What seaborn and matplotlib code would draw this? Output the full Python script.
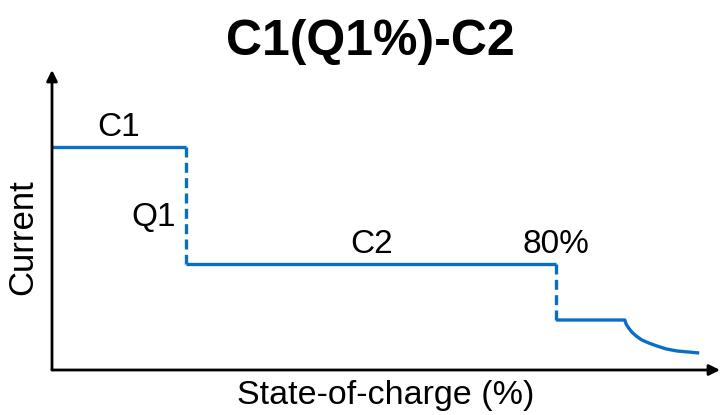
import numpy as np
import pandas as pd
import matplotlib
matplotlib.use('Agg')
import matplotlib.pyplot as plt
import seaborn as sns

# ── data (state-of-charge %, current in arbitrary units) ──────────────────────
c1_soc     = [0, 21.3]
c1_current = [2.23, 2.23]
q1_soc     = [21.3, 21.3]
q1_current = [2.23, 1.06]
c2_soc     = [21.3, 80]
c2_current = [1.06, 1.06]
step_soc     = [80, 80]
step_current = [1.06, 0.50]
cv_soc     = [80, 90.9, 91.1, 91.5, 92.0, 92.7, 93.6, 94.7, 96.0, 97.5, 99.2, 101.0, 102.7]
cv_current = [0.50, 0.50, 0.46, 0.42, 0.38, 0.34, 0.30, 0.27, 0.24, 0.21, 0.19, 0.18, 0.17]

labels = ['C1', 'Q1', 'C2', '80%']

sns.set_theme(style='white')
plt.rcParams['font.family'] = ['Liberation Sans', 'DejaVu Sans']
plt.rcParams['text.color'] = 'black'
plt.rcParams['axes.labelcolor'] = 'black'

blue = '#0a6fc2'
fig = plt.figure(figsize=(7.23, 4.15), dpi=100)
ax = fig.add_axes([52 / 723, 1 - 370 / 415, 668 / 723, 300 / 415])

segments = [
    (c1_soc, c1_current, False),
    (q1_soc, q1_current, True),
    (c2_soc, c2_current, False),
    (step_soc, step_current, True),
    (cv_soc, cv_current, False),
]
for xs, ys, dashed in segments:
    # estimator=None so vertical steps (same x twice) are not averaged away
    sns.lineplot(x=xs, y=ys, ax=ax, color=blue, lw=2.4, sort=False,
                 estimator=None)
    line = ax.lines[-1]
    line.set_solid_capstyle('butt')
    if dashed:
        line.set_dashes([3.0, 1.6])

ax.set_xlim(0, 106)
ax.set_ylim(0, 3)
ax.set_xticks([])
ax.set_yticks([])
for s in ax.spines.values():
    s.set_visible(False)

# axes as arrows
ax.annotate('', xy=(1.0, 0), xytext=(0, 0), xycoords='axes fraction',
            arrowprops=dict(arrowstyle='-|>', color='black', lw=2,
                            mutation_scale=16, shrinkA=0, shrinkB=0))
ax.annotate('', xy=(0, 1.0), xytext=(0, 0), xycoords='axes fraction',
            arrowprops=dict(arrowstyle='-|>', color='black', lw=2,
                            mutation_scale=16, shrinkA=0, shrinkB=0))

# segment labels
ax.text(10.5, 2.27, labels[0], fontsize=24, ha='center', va='bottom')
ax.text(19.7, 1.53, labels[1], fontsize=24, ha='right', va='center')
ax.text(50.7, 1.10, labels[2], fontsize=24, ha='center', va='bottom')
ax.text(80, 1.10, labels[3], fontsize=24, ha='center', va='bottom')

ax.set_xlabel('State-of-charge (%)', fontsize=24.5, labelpad=7)
ax.set_ylabel('Current', fontsize=25)
ax.yaxis.set_label_coords(-0.019, 0.443)
fig.text(0.512, 1 - 42 / 415, 'C1(Q1%)-C2', fontsize=36, fontweight='bold',
         ha='center', va='center')

fig.savefig('out.png', dpi=100)
